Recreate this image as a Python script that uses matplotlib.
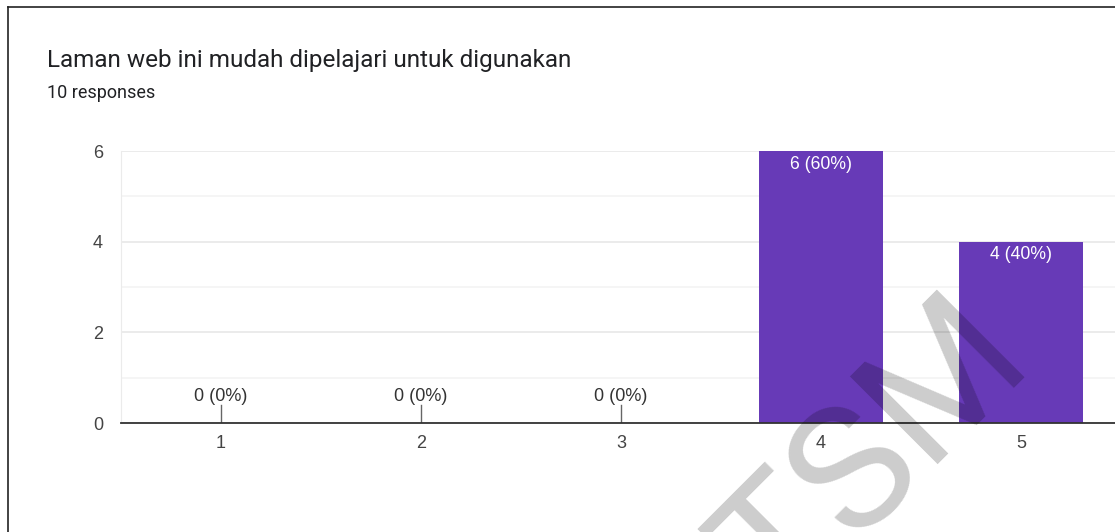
import numpy as np
import matplotlib.pyplot as plt

# Data
categories = ['1', '2', '3', '4', '5']
counts = [0, 0, 0, 6, 4]
total = 10

plt.rcParams['font.family'] = ['Liberation Sans', 'DejaVu Sans']

W, H = 1115, 532
fig = plt.figure(figsize=(W / 100, H / 100), dpi=100)

def px(x0, y0, x1, y1):
    # pixel box -> figure fraction rect
    return [x0 / W, 1 - y1 / H, (x1 - x0) / W, (y1 - y0) / H]

# axes spans x 121..1121 px (0.5..5.5), y 151..423 px (0..6)
ax = fig.add_axes(px(121, 151, 1121, 423))
x = np.arange(1, len(categories) + 1)
ax.bar(x, counts, width=0.62, color='#673ab7', zorder=3)

ax.set_xlim(0.5, 5.5)
ax.set_ylim(0, 6)
ax.set_yticks([0, 2, 4, 6])
ax.set_yticks([1, 3, 5], minor=True)
ax.set_xticks(x)
ax.set_xticklabels(categories)
ax.grid(axis='y', which='major', color='#e8e8e8', lw=1.2, zorder=0)
ax.grid(axis='y', which='minor', color='#f4f4f4', lw=1.2, zorder=0)
ax.tick_params(axis='both', which='both', length=0, labelsize=13, labelcolor='#444444')
ax.tick_params(axis='y', pad=13)
ax.tick_params(axis='x', pad=9)
for s in ['top', 'right']:
    ax.spines[s].set_visible(False)
ax.spines['left'].set_color('#ebebeb')
ax.spines['bottom'].set_color('#333333')
ax.spines['bottom'].set_linewidth(1.3)
ax.spines['bottom'].set_zorder(4)

for xi, c in zip(x, counts):
    label = f'{c} ({c * 100 // total}%)'
    if c == 0:
        ax.plot([xi, xi], [0, 0.4], color='#666666', lw=1, zorder=4)
        ax.text(xi, 0.4, label, ha='center', va='bottom', fontsize=13, color='#333333')
    else:
        ax.text(xi, c - 0.1, label, ha='center', va='top', fontsize=12.7, color='white', zorder=5)

# titles
fig.text(47 / W, 1 - 61 / H, 'Laman web ini mudah dipelajari untuk digunakan',
         fontsize=17.5, color='#202124', va='center', ha='left', family=['Roboto', 'DejaVu Sans'])
fig.text(47 / W, 1 - 93 / H, '10 responses', fontsize=13, color='#202124', va='center', ha='left',
         family=['Roboto', 'DejaVu Sans'])

# card border
fig.add_artist(plt.Line2D([8 / W, 8 / W], [0, 1 - 7 / H], transform=fig.transFigure, color='#222222', lw=1.2))
fig.add_artist(plt.Line2D([8 / W, 1], [1 - 7 / H, 1 - 7 / H], transform=fig.transFigure, color='#222222', lw=1.2))

# watermark, anchored near bottom-right corner of the M
fig.text(1035 / W, 1 - 363 / H, 'TSM', rotation=45, rotation_mode='anchor', ha='right', va='baseline',
         fontsize=125, color='black', alpha=0.2, zorder=10, family=['Roboto', 'DejaVu Sans'])

fig.savefig('out.png', dpi=100)
